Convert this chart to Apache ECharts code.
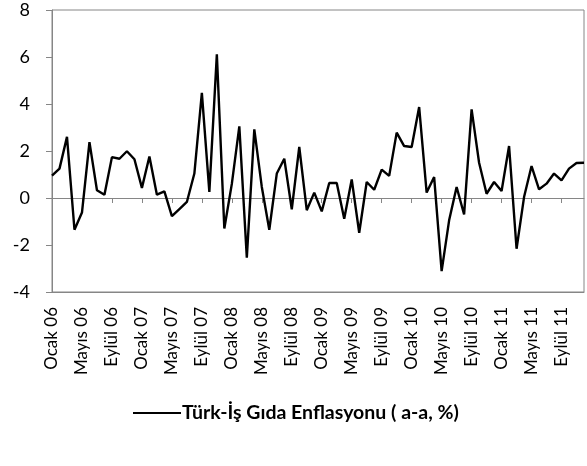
<!DOCTYPE html>
<html>
<head>
<meta charset="utf-8">
<script src="https://cdn.jsdelivr.net/npm/echarts@6/dist/echarts.min.js"></script>
<style>
  html, body { margin: 0; padding: 0; background: #fff; }
  #chart { width: 587px; height: 466px; }
</style>
</head>
<body>
<div id="chart"></div>
<script>
const categories = [
  'Ocak 06', 'Şubat 06', 'Mart 06', 'Nisan 06', 'Mayıs 06', 'Haziran 06', 'Temmuz 06', 'Ağustos 06', 'Eylül 06', 'Ekim 06', 'Kasım 06', 'Aralık 06',
  'Ocak 07', 'Şubat 07', 'Mart 07', 'Nisan 07', 'Mayıs 07', 'Haziran 07', 'Temmuz 07', 'Ağustos 07', 'Eylül 07', 'Ekim 07', 'Kasım 07', 'Aralık 07',
  'Ocak 08', 'Şubat 08', 'Mart 08', 'Nisan 08', 'Mayıs 08', 'Haziran 08', 'Temmuz 08', 'Ağustos 08', 'Eylül 08', 'Ekim 08', 'Kasım 08', 'Aralık 08',
  'Ocak 09', 'Şubat 09', 'Mart 09', 'Nisan 09', 'Mayıs 09', 'Haziran 09', 'Temmuz 09', 'Ağustos 09', 'Eylül 09', 'Ekim 09', 'Kasım 09', 'Aralık 09',
  'Ocak 10', 'Şubat 10', 'Mart 10', 'Nisan 10', 'Mayıs 10', 'Haziran 10', 'Temmuz 10', 'Ağustos 10', 'Eylül 10', 'Ekim 10', 'Kasım 10', 'Aralık 10',
  'Ocak 11', 'Şubat 11', 'Mart 11', 'Nisan 11', 'Mayıs 11', 'Haziran 11', 'Temmuz 11', 'Ağustos 11', 'Eylül 11', 'Ekim 11', 'Kasım 11', 'Aralık 11'
];

// Türk-İş gıda enflasyonu, aylık (%)
const gidaEnflasyonu = [
  0.95, 1.25, 2.60, -1.35, -0.62, 2.38, 0.33, 0.14, 1.74, 1.67, 1.99, 1.65,
  0.43, 1.77, 0.14, 0.28, -0.77, -0.47, -0.17, 1.04, 4.47, 0.26, 6.11, -1.30,
  0.60, 3.05, -2.54, 2.92, 0.47, -1.35, 1.04, 1.67, -0.48, 2.17, -0.52, 0.23,
  -0.57, 0.64, 0.64, -0.88, 0.79, -1.48, 0.68, 0.35, 1.21, 0.94, 2.78, 2.21,
  2.17, 3.87, 0.23, 0.89, -3.11, -0.95, 0.47, -0.70, 3.77, 1.50, 0.18, 0.68,
  0.30, 2.21, -2.16, 0.04, 1.36, 0.37, 0.61, 1.04, 0.75, 1.25, 1.49, 1.50
];

const seriesName = 'Türk-İş Gıda Enflasyonu ( a-a, %)';
const yMin = -4;
const yMax = 8;
const yStep = 2;

const axisGray = '#868686';
const fontFamily = 'Lato, "Noto Sans", sans-serif';

const myChart = echarts.init(document.getElementById('chart'));

const option = {
  animation: false,
  textStyle: { fontFamily: fontFamily },
  grid: {
    left: 52,
    right: 3,
    top: 10,
    bottom: 174,
    show: true,
    borderColor: axisGray,
    borderWidth: 1,
    containLabel: false
  },
  legend: {
    show: true,
    data: [seriesName],
    left: 128,
    top: 398,
    icon: 'rect',
    itemWidth: 48,
    itemHeight: 2,
    textStyle: {
      fontFamily: fontFamily,
      fontSize: 19.5,
      fontWeight: 'bold',
      color: '#000',
      padding: [0, 0, 0, -4]
    }
  },
  xAxis: [
    {
      type: 'category',
      data: categories,
      boundaryGap: false,
      position: 'bottom',
      axisLine: { onZero: false, lineStyle: { color: axisGray } },
      axisTick: { show: false },
      axisLabel: {
        interval: 3,
        rotate: 90,
        margin: 15,
        fontSize: 17,
        color: '#000',
        fontFamily: fontFamily
      },
      splitLine: { show: false }
    },
    {
      // zero line with its tick marks
      type: 'category',
      data: categories,
      boundaryGap: false,
      position: 'bottom',
      axisLine: { onZero: true, lineStyle: { color: axisGray, width: 1 } },
      axisTick: { show: true, interval: 3, length: 5, lineStyle: { color: axisGray } },
      axisLabel: { show: false },
      splitLine: { show: false }
    }
  ],
  yAxis: {
    type: 'value',
    min: yMin,
    max: yMax,
    interval: yStep,
    axisLine: { show: true, lineStyle: { color: axisGray } },
    axisTick: { show: true, length: 6, lineStyle: { color: axisGray } },
    axisLabel: {
      margin: 22,
      fontSize: 18,
      color: '#000',
      fontFamily: fontFamily
    },
    splitLine: { show: false }
  },
  series: [
    {
      name: seriesName,
      type: 'line',
      data: gidaEnflasyonu,
      xAxisIndex: 0,
      symbol: 'none',
      lineStyle: { color: '#000', width: 2.4 },
      itemStyle: { color: '#000' }
    }
  ]
};

myChart.setOption(option);
</script>
</body>
</html>
